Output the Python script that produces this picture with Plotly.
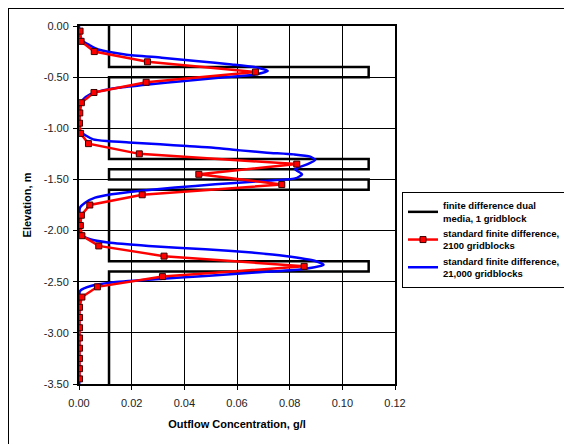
import plotly.graph_objects as go

# ---- data ----
dual_x = [0.0114, 0.0114, 0.11, 0.11, 0.0114, 0.0114, 0.11, 0.11, 0.0114,
          0.0114, 0.11, 0.11, 0.0114, 0.0114, 0.11, 0.11, 0.0114, 0.0114]
dual_y = [0.0, -0.4, -0.4, -0.5, -0.5, -1.3, -1.3, -1.4, -1.4,
          -1.5, -1.5, -1.6, -1.6, -2.3, -2.3, -2.4, -2.4, -3.5]

fd2100_y = [-0.05, -0.15, -0.25, -0.35, -0.45, -0.55, -0.65, -0.75, -0.85, -0.95,
            -1.05, -1.15, -1.25, -1.35, -1.45, -1.55, -1.65, -1.75, -1.85, -1.95,
            -2.05, -2.15, -2.25, -2.35, -2.45, -2.55, -2.65, -2.75, -2.85, -2.95,
            -3.05, -3.15, -3.25, -3.35, -3.45]
fd2100_x = [0.0004, 0.0008, 0.0058, 0.026, 0.067, 0.0255, 0.0057, 0.0009, 0.0003, 0.0002,
            0.0006, 0.0036, 0.0229, 0.0827, 0.0455, 0.077, 0.024, 0.0041, 0.0009, 0.0005,
            0.0011, 0.0075, 0.0323, 0.0855, 0.0317, 0.007, 0.0011, 0.0002, 0.0002, 0.0002,
            0.0002, 0.0002, 0.0002, 0.0002, 0.0002]

fd21000_y = [0.0, -0.05, -0.10, -0.15, -0.18, -0.23, -0.278, -0.31, -0.344, -0.376,
             -0.408, -0.44, -0.474, -0.506, -0.54, -0.571, -0.604, -0.637, -0.669, -0.718,
             -0.767, -0.85, -0.95, -1.027, -1.076, -1.108, -1.125, -1.141, -1.157, -1.174,
             -1.19, -1.216, -1.238, -1.255, -1.277, -1.31, -1.353, -1.40, -1.45, -1.49,
             -1.515, -1.548, -1.58, -1.613, -1.645, -1.678, -1.727, -1.775, -1.85, -1.95,
             -2.036, -2.085, -2.117, -2.15, -2.183, -2.215, -2.248, -2.297, -2.336, -2.378,
             -2.41, -2.443, -2.476, -2.508, -2.54, -2.59, -2.70, -3.50]
fd21000_x = [0.0, 0.0001, 0.0005, 0.0015, 0.0035, 0.0073, 0.0175, 0.0314, 0.0454, 0.058,
             0.068, 0.0717, 0.0669, 0.053, 0.039, 0.0263, 0.0149, 0.008, 0.0042, 0.0016,
             0.0004, 0.0001, 0.0001, 0.0004, 0.0029, 0.0054, 0.0105, 0.0206, 0.0308, 0.041,
             0.0511, 0.0612, 0.0714, 0.0815, 0.0878, 0.0897, 0.0866, 0.0821, 0.0847, 0.0821,
             0.0695, 0.0517, 0.0365, 0.0226, 0.0124, 0.0061, 0.0023, 0.0004, 0.0001, 0.0001,
             0.0004, 0.0042, 0.011, 0.0264, 0.048, 0.0657, 0.0783, 0.0897, 0.0929, 0.0847,
             0.067, 0.048, 0.029, 0.0124, 0.0048, 0.0004, 0.0001, 0.0001]

x_tickvals = [0.0, 0.02, 0.04, 0.06, 0.08, 0.10, 0.12]
x_ticktext = ["0.00", "0.02", "0.04", "0.06", "0.08", "0.10", "0.12"]
y_tickvals = [0.0, -0.5, -1.0, -1.5, -2.0, -2.5, -3.0, -3.5]
y_ticktext = ["0.00", "-0.50", "-1.00", "-1.50", "-2.00", "-2.50", "-3.00", "-3.50"]

name_dual = "finite difference dual<br>media, 1 gridblock"
name_2100 = "standard finite difference,<br>2100 gridblocks"
name_21000 = "standard finite difference,<br>21,000 gridblocks"

FONT = "Liberation Sans, Arial, sans-serif"

fig = go.Figure()
fig.add_trace(go.Scatter(x=dual_x, y=dual_y, mode="lines", name=name_dual,
                         line=dict(color="#000000", width=2.5), legendrank=1))
fig.add_trace(go.Scatter(x=fd21000_x, y=fd21000_y, mode="lines", name=name_21000,
                         line=dict(color="#0000FF", width=2.5, shape="spline", smoothing=0.6),
                         legendrank=3))
fig.add_trace(go.Scatter(x=fd2100_x, y=fd2100_y, mode="lines+markers", name=name_2100,
                         line=dict(color="#FF0000", width=2.5),
                         marker=dict(symbol="square", size=6, color="#FF0000",
                                     line=dict(color="#400000", width=1)),
                         legendrank=2))

# page has an 8px body margin; figure is placed at (8, 8) of the window
OFF = 8
W, H = 572 - OFF, 444 - OFF
L, T = 79 - OFF, 26 - OFF
R = W - (395 - OFF)
B = H - (384 - OFF)
pw, ph = W - L - R, H - T - B


def px2paper_x(p):
    return (p - OFF - L) / pw


def px2paper_y(p):
    return 1 - (p - OFF - T) / ph


fig.update_layout(
    width=W, height=H,
    margin=dict(l=L, r=R, t=T, b=B, autoexpand=False),
    paper_bgcolor="white", plot_bgcolor="white",
    font=dict(family=FONT, size=11, color="#000000"),
    showlegend=True,
    legend=dict(x=px2paper_x(402), y=px2paper_y(192), xanchor="left", yanchor="top",
                bordercolor="#000000", borderwidth=1, bgcolor="white",
                font=dict(family=FONT, size=9.5, color="#000000", weight="bold"),
                tracegroupgap=3, itemwidth=30),
    xaxis=dict(range=[0, 0.12], tickvals=x_tickvals, ticktext=x_ticktext,
               showgrid=True, gridcolor="#000000", gridwidth=1,
               showline=True, linecolor="#000000", linewidth=2, mirror=True,
               ticks="outside", ticklen=4, tickcolor="#000000", zeroline=False,
               automargin=False, ticklabelstandoff=4,
               tickfont=dict(size=11, color="#222222"),
               title=dict(text="Outflow Concentration, g/l", standoff=12,
                          font=dict(size=11, weight="bold"))),
    yaxis=dict(range=[-3.5, 0], tickvals=y_tickvals, ticktext=y_ticktext,
               showgrid=True, gridcolor="#000000", gridwidth=1,
               showline=True, linecolor="#000000", linewidth=2, mirror=True,
               ticks="outside", ticklen=4, tickcolor="#000000", zeroline=False,
               automargin=False, ticklabelstandoff=2,
               tickfont=dict(size=11, color="#222222"),
               title=dict(text="Elevation, m", standoff=10,
                          font=dict(size=11, weight="bold"))),
    shapes=[
        dict(type="line", xref="paper", yref="paper",
             x0=px2paper_x(8), x1=px2paper_x(600), y0=px2paper_y(8.5), y1=px2paper_y(8.5),
             line=dict(color="#000000", width=1)),
        dict(type="line", xref="paper", yref="paper",
             x0=px2paper_x(8.5), x1=px2paper_x(8.5), y0=px2paper_y(8), y1=px2paper_y(460),
             line=dict(color="#000000", width=1)),
    ],
)

fig.write_html("out.html")
